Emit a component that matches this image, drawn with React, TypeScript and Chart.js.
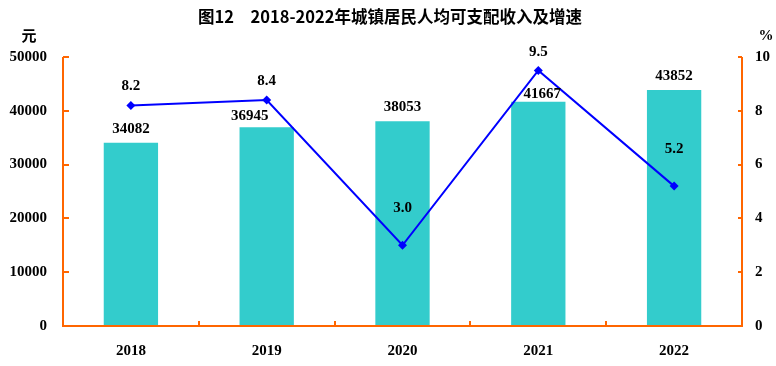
import React, { useEffect, useRef } from "react";
import { Chart, registerables } from "chart.js";

Chart.register(...registerables);

const categories = ["2018", "2019", "2020", "2021", "2022"];
const incomeValues = [34082, 36945, 38053, 41667, 43852];
const growthValues = [8.2, 8.4, 3.0, 9.5, 5.2];
const leftTicks = [0, 10000, 20000, 30000, 40000, 50000];
const rightTicks = [0, 2, 4, 6, 8, 10];
const titleText = "图12　2018-2022年城镇居民人均可支配收入及增速";

const AXIS = "#FF6600";
const BAR = "#33CCCC";
const LINE = "#0000FF";
const SERIF = "'Liberation Serif', 'Times New Roman', serif";

// label placement tweaks (pixels) for readability, as in the original
const barLabelShift = [
  { dx: 0, dy: 14 },
  { dx: -17, dy: 11 },
  { dx: 0, dy: 14 },
  { dx: 4, dy: 8 },
  { dx: 0, dy: 14 },
];
const lineLabelShift = [19, 19, 37, 18, 37];

const decor = {
  id: "decor",
  afterDatasetsDraw(chart: any) {
    const { ctx, chartArea } = chart;
    const { left, right, top, bottom } = chartArea;
    const y = chart.scales.y;
    const y1 = chart.scales.y1;
    const x = chart.scales.x;
    ctx.save();
    ctx.strokeStyle = AXIS;
    ctx.lineWidth = 2;
    ctx.beginPath();
    ctx.moveTo(left, top);
    ctx.lineTo(left, bottom);
    ctx.lineTo(right, bottom);
    ctx.lineTo(right, top);
    ctx.stroke();
    ctx.beginPath();
    leftTicks.forEach((v) => {
      if (v === 0) return;
      const py = Math.round(y.getPixelForValue(v));
      ctx.moveTo(left, py);
      ctx.lineTo(left + 6, py);
    });
    rightTicks.forEach((v) => {
      if (v === 0) return;
      const py = Math.round(y1.getPixelForValue(v));
      ctx.moveTo(right, py);
      ctx.lineTo(right - 4, py);
    });
    const n = categories.length;
    for (let i = 1; i < n; i++) {
      const px = Math.round((x.getPixelForValue(i - 1) + x.getPixelForValue(i)) / 2);
      ctx.moveTo(px, bottom);
      ctx.lineTo(px, bottom - 5);
    }
    ctx.stroke();

    ctx.fillStyle = "#000";
    ctx.font = `bold 15px ${SERIF}`;
    ctx.textAlign = "center";
    ctx.textBaseline = "middle";
    const barMeta = chart.getDatasetMeta(0);
    barMeta.data.forEach((el: any, i: number) => {
      const s = barLabelShift[i];
      ctx.fillText(String(incomeValues[i]), el.x + s.dx, el.y - s.dy);
    });
    const lineMeta = chart.getDatasetMeta(1);
    lineMeta.data.forEach((el: any, i: number) => {
      ctx.fillText(growthValues[i].toFixed(1), el.x, el.y - lineLabelShift[i]);
    });

    ctx.font = `bold 16.5px 'Noto Sans CJK SC', sans-serif`;
    ctx.fillText(titleText, 390, 17);
    ctx.font = `bold 15px 'Noto Sans CJK SC', sans-serif`;
    ctx.fillText("元", 29, 35);
    ctx.font = `bold 15px ${SERIF}`;
    ctx.fillText("%", 766, 36);
    ctx.restore();
  },
};

const tickFont = { family: SERIF, size: 15, weight: "bold" };

export default function App() {
  const ref = useRef<HTMLCanvasElement | null>(null);
  useEffect(() => {
    if (!ref.current) return;
    const chart = new Chart(ref.current, {
      type: "bar",
      data: {
        labels: categories,
        datasets: [
          {
            type: "bar",
            data: incomeValues,
            backgroundColor: BAR,
            yAxisID: "y",
            barPercentage: 0.4,
            categoryPercentage: 1,
            order: 2,
          },
          {
            type: "line",
            data: growthValues,
            borderColor: LINE,
            backgroundColor: LINE,
            borderWidth: 2,
            pointStyle: "rectRot",
            pointRadius: 4.5,
            pointBorderWidth: 0,
            yAxisID: "y1",
            tension: 0,
            order: 1,
          } as any,
        ],
      },
      options: {
        responsive: false,
        animation: false,
        maintainAspectRatio: false,
        layout: { padding: { top: 57, left: 0, right: 0, bottom: 0 } },
        plugins: {
          legend: { display: false },
          title: { display: false },
          tooltip: { enabled: false },
        },
        scales: {
          x: {
            grid: { display: false, drawTicks: false },
            border: { display: false },
            ticks: { color: "#000", font: tickFont, padding: 16 },
            afterFit: (s: any) => {
              s.height = 40;
            },
          },
          y: {
            position: "left",
            min: 0,
            max: 50000,
            grid: { display: false, drawTicks: false },
            border: { display: false },
            afterBuildTicks: (s: any) => {
              s.ticks = leftTicks.map((v) => ({ value: v }));
            },
            ticks: {
              color: "#000",
              font: tickFont,
              padding: 16,
              callback: (v: any) => String(v),
            },
            afterFit: (s: any) => {
              s.width = 63;
            },
          },
          y1: {
            position: "right",
            min: 0,
            max: 10,
            grid: { display: false, drawTicks: false },
            border: { display: false },
            afterBuildTicks: (s: any) => {
              s.ticks = rightTicks.map((v) => ({ value: v }));
            },
            ticks: {
              color: "#000",
              font: tickFont,
              padding: 13,
              callback: (v: any) => String(v),
            },
            afterFit: (s: any) => {
              s.width = 34;
            },
          },
        },
      },
      plugins: [decor],
    } as any);
    return () => chart.destroy();
  }, []);
  return (
    <div style={{ position: "fixed", left: 0, top: 0, width: 776, height: 366, background: "#fff" }}>
      <canvas ref={ref} width={776} height={366} style={{ display: "block" }} />
    </div>
  );
}
